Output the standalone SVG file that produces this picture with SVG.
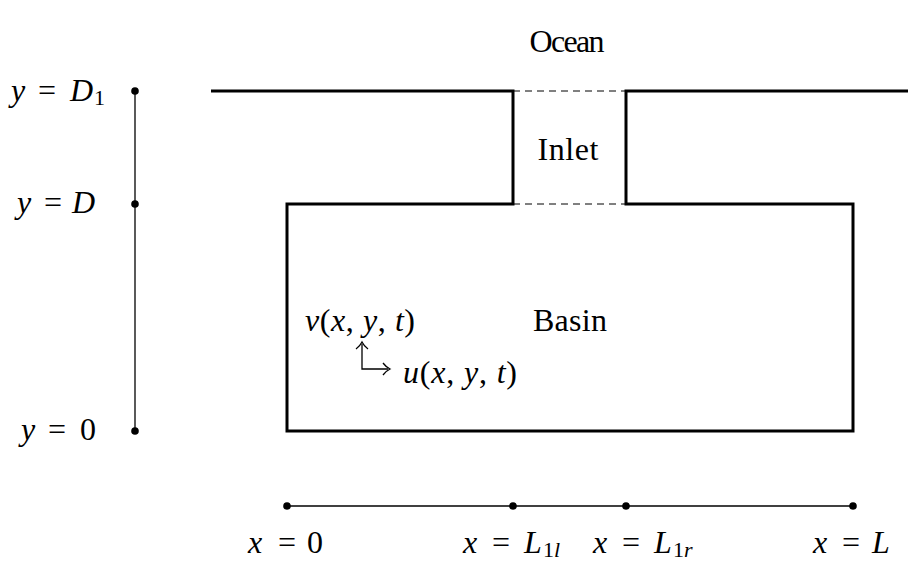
<svg xmlns="http://www.w3.org/2000/svg" width="923" height="565" viewBox="0 0 923 565">
<style>
.t{font-family:"Liberation Serif","DejaVu Serif",serif;font-size:32px;fill:#000}
.m{font-style:italic}
.s{font-size:22px}
.wall{fill:none;stroke:#000;stroke-width:3}
.ax{fill:none;stroke:#000;stroke-width:1.3}
.dash{stroke:#000;stroke-width:1;stroke-dasharray:7,5}
.dot{fill:#000}
</style>
<rect width="923" height="565" fill="#fff"/>
<g id="connectors">
<path class="wall" d="M211,91 H513 V204 H287 V431 H853 V204 H626 V91 H908"/>
<line class="dash" x1="513" y1="91" x2="626" y2="91"/>
<line class="dash" x1="513" y1="204" x2="626" y2="204"/>
<line class="ax" x1="135" y1="91" x2="135" y2="431"/>
<line class="ax" x1="287" y1="506" x2="853" y2="506"/>
<path class="ax" d="M362,344 V369 H388"/>
<path class="ax" d="M356,349 Q360,346 362,342 Q364,346 368,349"/>
<path class="ax" d="M383,363 Q386,367 390,369 Q386,371 383,375"/>
</g>
<g id="yaxis">
<circle class="dot" cx="135" cy="91" r="3.8"/>
<circle class="dot" cx="135" cy="204" r="3.8"/>
<circle class="dot" cx="135" cy="431" r="3.8"/>
<text class="t" y="101"><tspan class="m" x="11">y</tspan><tspan x="38">=</tspan><tspan class="m" x="70">D</tspan><tspan class="s" x="94" dy="4">1</tspan></text>
<text class="t" y="213"><tspan class="m" x="17">y</tspan><tspan x="44">=</tspan><tspan class="m" x="72">D</tspan></text>
<text class="t" y="440"><tspan class="m" x="21">y</tspan><tspan x="48">=</tspan><tspan x="80">0</tspan></text>
</g>
<g id="xaxis">
<circle class="dot" cx="287" cy="506" r="3.8"/>
<circle class="dot" cx="513" cy="506" r="3.8"/>
<circle class="dot" cx="626" cy="506" r="3.8"/>
<circle class="dot" cx="853" cy="506" r="3.8"/>
<text class="t" y="553"><tspan class="m" x="248">x</tspan><tspan x="278">=</tspan><tspan x="307">0</tspan></text>
<text class="t" y="553"><tspan class="m" x="463">x</tspan><tspan x="492">=</tspan><tspan class="m" x="524">L</tspan><tspan class="s" x="543" dy="4">1</tspan><tspan class="s m" x="554">l</tspan></text>
<text class="t" y="553"><tspan class="m" x="593">x</tspan><tspan x="622">=</tspan><tspan class="m" x="654">L</tspan><tspan class="s" x="673" dy="4">1</tspan><tspan class="s m" x="684">r</tspan></text>
<text class="t" y="553"><tspan class="m" x="813">x</tspan><tspan x="842">=</tspan><tspan class="m" x="872">L</tspan></text>
</g>
<g id="ocean"><text class="t" x="567" y="52" text-anchor="middle" textLength="75">Ocean</text></g>
<g id="inlet"><text class="t" x="568" y="160" text-anchor="middle" textLength="61">Inlet</text></g>
<g id="basin"><text class="t" x="570" y="331" text-anchor="middle" textLength="74">Basin</text></g>
<g id="velocity">
<text class="t" x="305" y="331" textLength="110"><tspan class="m">v</tspan>(<tspan class="m">x</tspan>, <tspan class="m">y</tspan>, <tspan class="m">t</tspan>)</text>
<text class="t" x="403" y="383" textLength="114"><tspan class="m">u</tspan>(<tspan class="m">x</tspan>, <tspan class="m">y</tspan>, <tspan class="m">t</tspan>)</text>
</g>
</svg>
